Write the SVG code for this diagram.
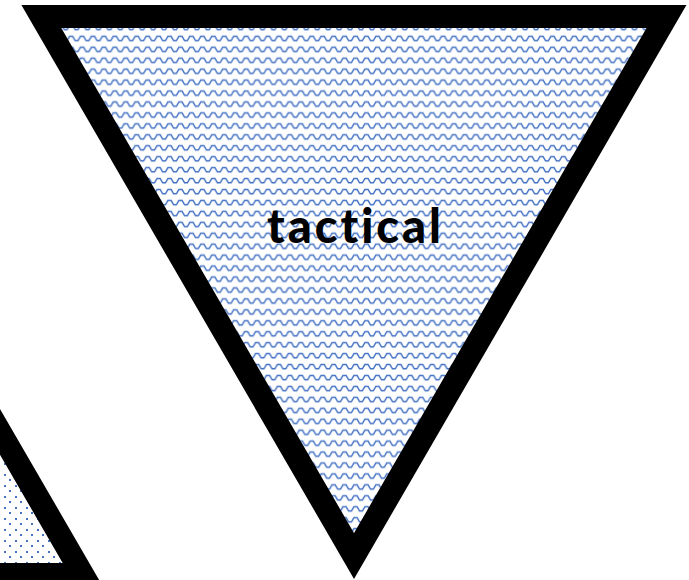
<svg xmlns="http://www.w3.org/2000/svg" width="689" height="580" viewBox="0 0 689 580">
  <defs>
    <pattern id="wave" patternUnits="userSpaceOnUse" x="0" y="2" width="10.94" height="10.94">
      <rect width="10.94" height="10.94" fill="#ffffff"/>
      <path d="M-1,5.8 L1.4,5.8 L3.9,1.4 L7,1.4 L9.5,5.8 L12,5.8" fill="none" stroke="#4472C4" stroke-width="1.5" stroke-linejoin="miter"/>
    </pattern>
    <pattern id="dots" patternUnits="userSpaceOnUse" x="42" y="545" width="11" height="11">
      <rect width="11" height="11" fill="#ffffff"/>
      <g fill="#4472C4" shape-rendering="crispEdges">
        <rect x="0" y="0" width="2" height="2"/>
        <rect x="5.5" y="5.5" width="2" height="2"/>
      </g>
    </pattern>
    <style>
      .tri { stroke: #000000; stroke-width: 23; stroke-linejoin: miter; stroke-miterlimit: 4; }
      .lbl { font-family: "Lato", "Liberation Sans", sans-serif; font-weight: 900; font-size: 47px; fill: #000000; font-variant-ligatures: none; }
    </style>
  </defs>
  <rect width="689" height="580" fill="#ffffff"/>
  <g id="node-left">
    <polygon class="tri" fill="url(#dots)" points="-229.9,35 82.65,574.5 -542.45,574.5"/>
  </g>
  <g id="node-tactical">
    <polygon class="tri" fill="url(#wave)" points="41.35,16.5 666.5,16.5 354,556"/>
    <text class="lbl" x="354" y="243" text-anchor="middle" textLength="174" lengthAdjust="spacing">tactical</text>
  </g>
  <g id="connectors"/>
</svg>
